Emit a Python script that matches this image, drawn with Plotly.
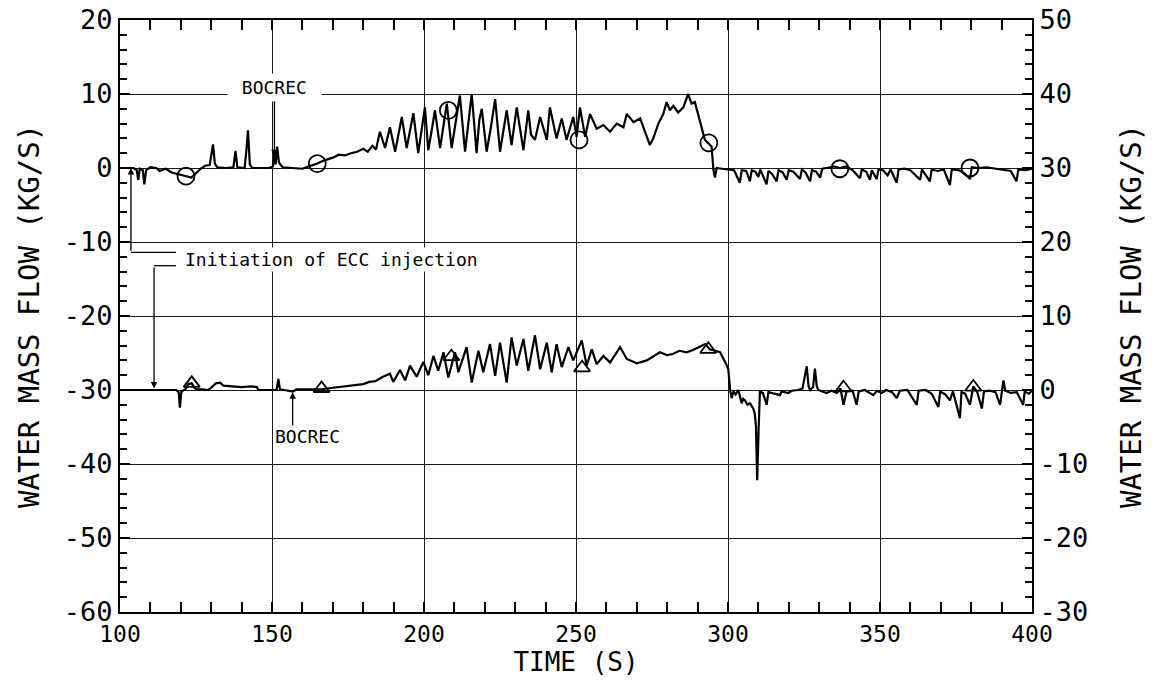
import plotly.graph_objects as go

# ---------------- data ----------------
# Upper curve, left axis (kg/s)
upper_t = [100, 103, 104.5, 105.5, 106, 106.5, 107.5, 108, 108.6, 110, 112, 113, 115, 117, 119,
           121.7, 123.5, 125, 126.5, 128, 129.5, 130.6, 131.2, 132, 135, 137.3, 138, 138.6, 141,
           141.6, 142.1, 142.7, 143.5, 149, 150.3, 150.8, 151.2, 151.7, 152.3, 153.5, 157, 160,
           162, 164.9, 167, 170, 172, 174, 176, 178, 180, 181.5, 183, 184.2, 185.5, 187.2, 188.8,
           190.5, 192.7, 194.3, 196.5, 198.1, 200.3, 201.4, 202.5, 203.6, 205.3, 207.5, 209.1,
           210.4, 211.8, 213.5, 215.7, 217.3, 218.2, 219.0, 220.6, 222.0, 223.4, 225.0, 227.2,
           228.8, 230.5, 232.7, 234.3, 235.2, 236.5, 238.2, 240.4, 241.4, 243.6, 245.3, 246.9,
           249.1, 250.2, 251.3, 253.0, 254.6, 256.8, 259.0, 261.2, 263.4, 265.6, 266.7, 268.9,
           271.1, 272.7, 274.3, 275.4, 277.1, 278.7, 279.8, 280.9, 282.0, 283.6, 285.3, 286.9,
           288.0, 289.1, 290.2, 291.3, 292.4, 294.6, 295.2, 295.7, 296.3, 298, 300, 302, 303.9,
           304.5, 306, 307.2, 307.8, 309, 310, 310.6, 312.7, 313.3, 314.5, 316, 316.6, 318, 319.3,
           320, 321.5, 323.7, 324.3, 325.5, 327, 327.6, 329, 330.3, 331, 333, 335, 336.8, 339,
           341, 343.4, 344, 345.5, 346.7, 347.3, 348.9, 349.5, 351, 352.5, 353.5, 355.5, 356.1,
           358, 360, 363.2, 363.8, 366.4, 367, 369, 371, 373, 373.6, 376, 378, 379.6, 380.2, 382,
           385, 388, 391, 393, 394.9, 395.5, 398, 400]
upper_v = [0, 0, 0, -0.3, -1.6, -0.1, -0.3, -2.2, -0.3, 0.1, 0, -0.4, -0.1, -0.6, -0.8,
           -1.1, -1.3, -0.7, -0.1, 0.3, 0.4, 3.2, 0.6, 0.1, 0, 0.1, 2.3, 0.1, 0,
           2.5, 5.1, 0.5, 0, 0, 0.2, 2.0, 0.5, 2.9, 0.7, 0.1, 0, -0.1,
           0.2, 0.6, 1.0, 1.4, 1.8, 1.7, 2.0, 2.2, 2.6, 2.2, 3.0, 2.5, 4.9, 2.7, 5.5,
           2.2, 6.9, 2.7, 7.4, 2.0, 8.2, 2.4, 5.0, 7.8, 2.7, 8.7, 2.7,
           6.0, 9.8, 2.2, 10.0, 2.0, 6.5, 8.0, 2.2, 5.5, 9.3, 2.2, 7.8,
           3.1, 8.2, 2.4, 7.8, 4.5, 3.8, 6.9, 3.8, 8.2, 4.0, 6.7, 3.8,
           6.9, 4.2, 8.2, 4.2, 7.3, 5.3, 5.8, 4.9, 6.0, 5.5, 7.3, 6.2,
           6.7, 4.9, 3.1, 4.0, 6.0, 7.3, 8.9, 7.8, 8.4, 7.5, 8.2, 10.0,
           8.7, 8.9, 7.1, 5.5, 3.8, 2.9, -0.2, -1.3, 0, -0.1, -0.2, -0.3, -2.0,
           -0.3, -0.4, -1.8, -0.3, -0.5, -1.2, -0.2, -2.2, -0.4, -0.8, -1.8, -0.3, -0.6, -1.6,
           -0.3, -0.5, -1.5, -0.2, -0.6, -1.8, -0.3, -0.5, -1.3, -0.1, 0.1, 0.2, 0.0, 0.2,
           -0.3, -1.4, -0.2, -0.5, -1.6, -0.3, -1.5, -0.2, -0.3, -1.0, -0.2, -2.0, -0.2,
           -0.1, -0.3, -1.6, -0.2, -1.8, -0.2, -0.4, -0.2, -2.3, -0.2, -0.3, -0.8, -1.5, 0.1, 0.0,
           0.1, -0.1, -0.2, -0.4, -1.8, -0.2, -0.3, -0.1]

# Lower curve, right axis (kg/s)
lower_t = [100, 118.5, 119.3, 119.7, 120.2, 121.5, 122.5, 123.6, 124.5, 125, 127, 129, 130, 131.5,
           132.9, 134, 137, 140, 143, 145, 145.5, 151.5, 152.1, 152.6, 154, 156.9, 158, 160, 163,
           166.3, 168, 170, 173, 176, 178, 180, 182, 184, 186.5, 188.8, 189.9, 192.1, 193.8,
           195.4, 197.6, 199.8, 201.4, 203.1, 204.7, 206.4, 208.0, 210.2, 211.3, 214.0, 215.7,
           217.9, 219.5, 221.7, 223.4, 225.0, 227.2, 228.8, 230.5, 232.7, 234.3, 236.5, 238.2,
           240.4, 242.0, 243.6, 245.3, 247.5, 249.1, 251.9, 253.5, 255.2, 256.8, 259.0, 261.2,
           264.5, 266.7, 270.0, 273.3, 277.6, 280.0, 282.0, 284.0, 286.4, 288.5, 290.8, 292.5,
           294, 297.4, 299.5, 300.1, 300.7, 301.2, 301.8, 302.5, 303.4, 304.5, 305.0, 305.6,
           306.4, 307.2, 308.3, 308.8, 309.2, 309.6, 310.1, 310.5, 311.5, 312.7, 313.3, 315,
           317.1, 317.6, 319.8, 321, 323, 324.5, 325.9, 326.5, 327.0, 328.0, 328.6, 329.2, 329.7,
           331, 332.5, 334, 335.8, 337, 338.0, 339, 341, 342.3, 343, 345, 347.8, 349, 350.6, 352,
           354, 355.5, 356.5, 359, 362.1, 362.7, 365, 367, 369.2, 369.8, 371.5, 373.0, 374, 376.3,
           376.8, 378, 379.6, 380.7, 382, 383.5, 384.2, 386, 388, 389.5, 390.1, 390.6, 391.2, 393,
           395, 397.1, 397.6, 399, 400]
lower_v = [0, 0, -0.3, -2.4, -0.2, 0.1, 0.8, 0.9, 0.3, 0.1, 0.1, 0.0, 0.3, 0.9,
           1.0, 0.6, 0.5, 0.4, 0.5, 0.4, 0.0, 0.0, 1.5, 0.1, 0.0, -0.2, 0.1, 0.1, 0.0,
           0.1, 0.2, 0.3, 0.5, 0.6, 0.8, 0.8, 1.1, 1.2, 1.8, 2.2, 1.1, 2.7, 1.3,
           3.3, 1.8, 3.8, 2.0, 4.6, 2.6, 5.1, 1.7, 5.1, 2.4, 5.8, 1.0,
           5.3, 2.4, 6.2, 1.9, 6.4, 1.0, 7.1, 3.3, 6.9, 2.6, 7.4, 2.8,
           6.4, 2.4, 6.2, 3.1, 5.8, 4.0, 6.7, 3.3, 5.5, 3.5, 4.6, 3.7,
           5.8, 4.2, 3.6, 4.0, 5.1, 4.7, 4.9, 5.3, 5.1, 5.4, 5.8, 6.2,
           5.5, 5.1, 3.4, 2.8, 0.0, -1.1, -0.2, -0.6, 0.0, -1.8, -1.2, -1.4,
           -2.0, -1.8, -2.5, -3.2, -5.0, -12.2, -5.0, -0.2, -0.4, -2.0, -0.3, -0.5,
           -0.7, -0.2, -0.4, -0.1, 0.0, 0.2, 3.2, 0.5, 0.0, 0.4, 2.9, 0.5, 0.0,
           -0.2, -0.4, -0.1, -0.4, 0.2, -2.0, -0.2, -0.1, -2.0, -0.2, 0.0, -0.7, -0.1, -0.4, 0.0,
           -0.3, -1.1, -0.1, 0.0, -2.0, -0.1, 0.0, -0.5, -2.3, -0.2, -0.6, -1.4, -0.2, -3.8,
           -0.3, -0.5, -2.0, 0.5, -0.3, -2.5, -0.2, -0.1, -0.3, -2.0, -0.1, 1.3, -0.1, -0.4,
           -0.3, -2.0, -0.2, -0.5, -0.1]

# Symbols on the curves
circle_t = [121.7, 164.9, 208.0, 251.0, 293.7, 336.8, 379.6]
circle_v = [-1.1, 0.6, 7.8, 3.8, 3.4, -0.1, 0.0]
triangle_t = [123.6, 166.3, 209.0, 252.0, 293.5, 338.0, 380.7]
triangle_v = [0.9, 0.2, 4.5, 3.0, 5.5, 0.3, 0.4]

# Axis ticks
x_ticks = [100, 150, 200, 250, 300, 350, 400]
y_left_ticks = [20, 10, 0, -10, -20, -30, -40, -50, -60]
y_right_ticks = [50, 40, 30, 20, 10, 0, -10, -20, -30]

FONT = "DejaVu Sans Mono"
INK = "black"

fig = go.Figure()
fig.add_trace(go.Scatter(x=upper_t, y=upper_v, mode="lines",
                         line=dict(color=INK, width=2.2), yaxis="y", showlegend=False))
fig.add_trace(go.Scatter(x=lower_t, y=lower_v, mode="lines",
                         line=dict(color=INK, width=2.2), yaxis="y2", showlegend=False))
fig.add_trace(go.Scatter(x=circle_t, y=circle_v, mode="markers",
                         marker=dict(symbol="circle-open", size=17, color=INK, line=dict(width=1.8)),
                         yaxis="y", showlegend=False))
fig.add_trace(go.Scatter(x=triangle_t, y=triangle_v, mode="markers",
                         marker=dict(symbol="triangle-up-open", size=14, color=INK, line=dict(width=1.8)),
                         yaxis="y2", showlegend=False))

axis_common = dict(
    showline=True, linecolor=INK, linewidth=2,
    showgrid=True, gridcolor="#1a1a1a", gridwidth=1.2,
    zeroline=False, ticks="inside", ticklen=10, tickcolor=INK, tickwidth=1.5,
    automargin=False,
)

fig.update_layout(
    width=1157, height=688,
    paper_bgcolor="white", plot_bgcolor="white",
    margin=dict(l=120, r=125, t=20, b=76),
    font=dict(family=FONT, color=INK),
    xaxis=dict(
        range=[100, 400], tickvals=x_ticks, ticktext=[str(v) for v in x_ticks],
        mirror="allticks",
        minor=dict(dtick=10, tick0=100, ticks="inside", ticklen=7, tickcolor=INK, showgrid=False),
        tickfont=dict(family=FONT, size=23),
        title=dict(text="TIME (S)", font=dict(family=FONT, size=26), standoff=6),
        **axis_common,
    ),
    yaxis=dict(
        range=[-60, 20], tickvals=y_left_ticks, ticktext=[str(v) for v in y_left_ticks],
        minor=dict(dtick=2, tick0=0, ticks="inside", ticklen=7, tickcolor=INK, showgrid=False),
        tickfont=dict(family=FONT, size=27),
        title=dict(text="WATER MASS FLOW (KG/S)", font=dict(family=FONT, size=29), standoff=16),
        **axis_common,
    ),
    yaxis2=dict(
        range=[-30, 50], overlaying="y", side="right",
        tickvals=y_right_ticks, ticktext=[str(v) for v in y_right_ticks],
        showline=True, linecolor=INK, linewidth=2, showgrid=False, zeroline=False,
        ticks="inside", ticklen=10, tickcolor=INK, tickwidth=1.5, automargin=False,
        minor=dict(dtick=2, tick0=0, ticks="inside", ticklen=7, tickcolor=INK, showgrid=False),
        tickfont=dict(family=FONT, size=27),
        title=dict(text="WATER MASS FLOW (KG/S)", font=dict(family=FONT, size=29), standoff=34),
    ),
)

# Annotations
ann_font = dict(family=FONT, size=18, color=INK)
fig.add_annotation(x=150.8, y=1.6, ax=150.8, ay=10.9, xref="x", yref="y", axref="x", ayref="y",
                   text=" BOCREC ", showarrow=True, arrowhead=2, arrowsize=1, arrowwidth=1.3,
                   arrowcolor=INK, bgcolor="white", borderpad=3, font=ann_font)
fig.add_annotation(x=156.8, y=-30.3, ax=156.8, ay=-35.0, xref="x", yref="y", axref="x", ayref="y",
                   text="", showarrow=True, arrowhead=2, arrowsize=1, arrowwidth=1.3, arrowcolor=INK)
fig.add_annotation(x=161.7, y=-36.3, xref="x", yref="y", text="BOCREC", showarrow=False, font=ann_font)

# Initiation of ECC injection
fig.add_annotation(x=103.6, y=0.0, ax=103.6, ay=-11.4, xref="x", yref="y", axref="x", ayref="y",
                   text="", showarrow=True, arrowhead=2, arrowsize=1, arrowwidth=1.3, arrowcolor=INK)
fig.add_annotation(x=111.2, y=-29.8, ax=111.2, ay=-13.2, xref="x", yref="y", axref="x", ayref="y",
                   text="", showarrow=True, arrowhead=2, arrowsize=1, arrowwidth=1.3, arrowcolor=INK)
fig.add_shape(type="line", x0=103.6, x1=118.4, y0=-11.4, y1=-11.4, xref="x", yref="y",
              line=dict(color=INK, width=1.3))
fig.add_shape(type="line", x0=111.2, x1=118.4, y0=-13.2, y1=-13.2, xref="x", yref="y",
              line=dict(color=INK, width=1.3))
fig.add_annotation(x=120.8, y=-12.3, xref="x", yref="y", xanchor="left", yanchor="middle",
                   text="Initiation of ECC injection", showarrow=False, bgcolor="white",
                   borderpad=1, font=ann_font)

fig.write_html("out.html", config={"displayModeBar": False},
               post_script="document.body.style.margin='0px';document.body.style.overflow='hidden';")
